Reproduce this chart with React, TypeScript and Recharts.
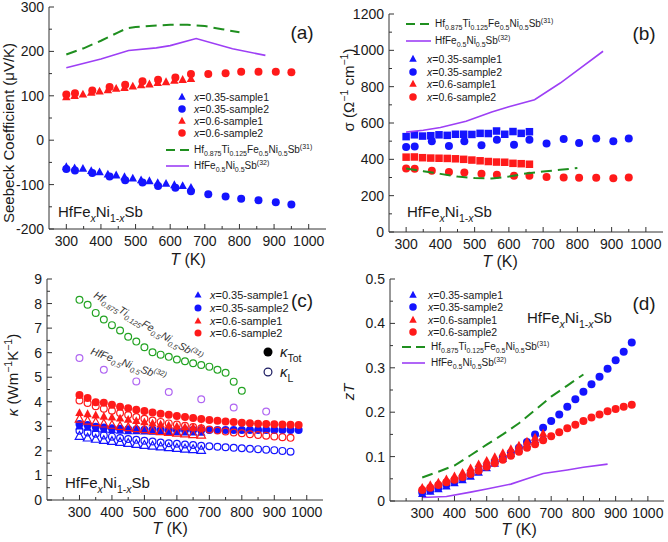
import React from 'react';
import { ScatterChart, Scatter, XAxis, YAxis, Legend } from 'recharts';

const FONT = '"Liberation Sans", Arial, Helvetica, sans-serif';
const BLUE = '#1414ff';
const RED = '#ff1a1a';
const GREEN = '#1f8f1f';
const GREEN_O = '#22a322';
const PURPLE = '#9d3ff5';
const PURPLE_O = '#b066f2';
const AXIS = '#333333';
const TXT = '#1a1a1a';

// ---------- tick labels ----------
const xTicksAB = [300, 350, 400, 450, 500, 550, 600, 650, 700, 750, 800, 850, 900, 950, 1000];
const xTicksCD = [250, 300, 350, 400, 450, 500, 550, 600, 650, 700, 750, 800, 850, 900, 950, 1000];
const xMajors = [300, 400, 500, 600, 700, 800, 900, 1000];
const yTicksA = [-200, -150, -100, -50, 0, 50, 100, 150, 200, 250, 300];
const yMajorsA = [-200, -100, 0, 100, 200, 300];
const yTicksB = [0, 100, 200, 300, 400, 500, 600, 700, 800, 900, 1000, 1100, 1200];
const yMajorsB = [0, 200, 400, 600, 800, 1000, 1200];
const yTicksC = [0, 0.5, 1, 1.5, 2, 2.5, 3, 3.5, 4, 4.5, 5, 5.5, 6, 6.5, 7, 7.5, 8, 8.5, 9];
const yMajorsC = [0, 1, 2, 3, 4, 5, 6, 7, 8, 9];
const yTicksD = [0, 0.05, 0.1, 0.15, 0.2, 0.25, 0.3, 0.35, 0.4, 0.45, 0.5];
const yMajorsD = [0, 0.1, 0.2, 0.3, 0.4, 0.5];

// ---------- panel (a): Seebeck ----------
const tAB1 = [300, 324, 348, 372, 396, 420, 444, 468, 492, 516, 540, 564, 588, 612, 636, 660];
const tAB2 = [300, 325, 375, 425, 470, 520, 565, 615, 660, 710, 760, 805, 855, 905, 950];
const seebeck035s1 = [-60, -63, -64, -69, -72, -77, -79, -83, -86, -90, -92, -96, -98, -101, -103, -107];
const seebeck035s2 = [-65, -68, -74, -82, -90, -95, -103, -107, -115, -122, -127, -132, -135, -140, -145];
const seebeck06s1 = [97, 100, 103, 107, 110, 113, 116, 118, 121, 124, 126, 129, 131, 134, 136, 138];
const seebeck06s2 = [103, 106, 112, 120, 125, 133, 136, 141, 149, 149, 151, 154, 154, 154, 153];
const tSeebeckTi = [300, 350, 400, 450, 475, 500, 550, 600, 650, 700, 750, 800];
const seebeckTi = [193, 207, 224, 243, 252, 255, 258, 260, 260, 257, 250, 243];
const tSeebeckRef = [300, 400, 480, 560, 600, 675, 780, 875];
const seebeckRef = [163, 183, 202, 208, 213, 229, 206, 191];

// ---------- panel (b): conductivity ----------
const sigma035s1 = [525, 535, 528, 530, 535, 532, 538, 538, 537, 543, 542, 556, 538, 553, 543, 552];
const sigma035s2 = [468, 470, 500, 473, 500, 478, 508, 480, 508, 487, 512, 490, 515, 500, 515];
const sigma06s1 = [412, 413, 409, 407, 406, 405, 403, 400, 396, 392, 388, 385, 384, 378, 376, 373];
const sigma06s2 = [350, 348, 337, 330, 327, 320, 315, 310, 310, 303, 300, 298, 298, 296, 300];
const tSigmaTi = [300, 350, 400, 450, 500, 550, 600, 650, 700, 750, 800];
const sigmaTi = [350, 335, 320, 305, 297, 295, 305, 322, 333, 342, 352];
const tSigmaRef = [300, 350, 400, 475, 550, 600, 675, 750, 800, 875];
const sigmaRef = [550, 560, 575, 610, 660, 690, 728, 820, 890, 995];

// ---------- panel (c): thermal conductivity ----------
const tCD1 = [300, 325, 350, 375, 400, 425, 450, 475, 500, 525, 550, 575, 600, 625, 650, 675];
const tC2tot = [300, 325, 350, 375, 400, 425, 450, 475, 500, 525, 550, 575, 600, 625, 650, 675, 700, 725, 750, 775, 800, 825, 850, 875, 900, 925, 950, 975];
const tCD2 = [300, 325, 350, 375, 400, 425, 450, 475, 500, 525, 550, 575, 600, 625, 650, 675, 700, 725, 750, 775, 800, 825, 850, 875, 900, 925, 950];
const kTot035s1 = [3.0, 2.95, 2.9, 2.87, 2.85, 2.83, 2.81, 2.8, 2.79, 2.78, 2.77, 2.76, 2.76, 2.75, 2.75, 2.74];
const kL035s1 = [2.6, 2.53, 2.48, 2.43, 2.39, 2.35, 2.31, 2.27, 2.23, 2.2, 2.17, 2.14, 2.11, 2.08, 2.06, 2.03];
const kTot035s2 = [3.1, 3.05, 2.98, 2.95, 2.92, 2.9, 2.88, 2.87, 2.86, 2.86, 2.85, 2.85, 2.85, 2.85, 2.85, 2.85, 2.85, 2.85, 2.85, 2.85, 2.85, 2.85, 2.85, 2.85, 2.85, 2.85, 2.85, 2.85];
const kL035s2 = [2.82, 2.75, 2.7, 2.63, 2.58, 2.52, 2.48, 2.45, 2.41, 2.38, 2.34, 2.31, 2.29, 2.26, 2.24, 2.21, 2.19, 2.17, 2.15, 2.13, 2.11, 2.09, 2.07, 2.05, 2.03, 2.0, 1.97];
const kTot06s1 = [3.55, 3.5, 3.45, 3.4, 3.36, 3.32, 3.27, 3.22, 3.17, 3.12, 3.08, 3.04, 3.0, 2.97, 2.95, 2.93];
const kL06s1 = [3.3, 3.22, 3.16, 3.1, 3.05, 3.0, 2.95, 2.91, 2.87, 2.83, 2.79, 2.76, 2.73, 2.7, 2.67, 2.65];
const kTot06s2 = [4.28, 4.15, 3.98, 3.96, 3.88, 3.8, 3.74, 3.68, 3.62, 3.56, 3.51, 3.47, 3.42, 3.38, 3.34, 3.3, 3.26, 3.23, 3.2, 3.18, 3.15, 3.13, 3.11, 3.1, 3.08, 3.07, 3.06, 3.05];
const kL06s2 = [4.05, 3.95, 3.82, 3.72, 3.63, 3.54, 3.46, 3.38, 3.31, 3.24, 3.18, 3.12, 3.07, 3.02, 2.97, 2.92, 2.87, 2.83, 2.79, 2.75, 2.72, 2.68, 2.65, 2.62, 2.59, 2.56, 2.53];
const tKappaTi = [300, 325, 350, 375, 400, 425, 450, 475, 500, 525, 550, 575, 600, 625, 650, 675, 700, 725, 750, 775, 800];
const kappaTi = [8.15, 7.95, 7.62, 7.35, 7.12, 6.9, 6.65, 6.45, 6.22, 6.02, 5.92, 5.83, 5.72, 5.65, 5.57, 5.5, 5.43, 5.3, 5.18, 4.82, 4.45];
const tKappaRef = [300, 375, 475, 575, 675, 775, 875];
const kappaRef = [5.78, 5.3, 4.83, 4.4, 4.1, 3.77, 3.6];

// ---------- panel (d): zT ----------
const zT035s1 = [0.016, 0.021, 0.027, 0.033, 0.04, 0.047, 0.055, 0.064, 0.074, 0.084, 0.095, 0.106, 0.117, 0.128, 0.137, 0.145];
const zT035s2 = [0.019, 0.024, 0.03, 0.037, 0.044, 0.052, 0.06, 0.069, 0.078, 0.088, 0.098, 0.109, 0.12, 0.133, 0.15, 0.165, 0.18, 0.195, 0.212, 0.229, 0.246, 0.263, 0.28, 0.298, 0.317, 0.336, 0.357];
const zT06s1 = [0.03, 0.036, 0.042, 0.049, 0.056, 0.064, 0.074, 0.083, 0.091, 0.099, 0.108, 0.117, 0.125, 0.134, 0.143, 0.152];
const zT06s2 = [0.025, 0.03, 0.036, 0.042, 0.048, 0.054, 0.061, 0.068, 0.077, 0.085, 0.093, 0.102, 0.111, 0.12, 0.128, 0.137, 0.146, 0.155, 0.164, 0.172, 0.18, 0.188, 0.195, 0.202, 0.207, 0.212, 0.217];
const tZTTi = [300, 350, 400, 450, 500, 550, 600, 650, 700, 750, 800];
const zTTi = [0.053, 0.066, 0.08, 0.103, 0.127, 0.15, 0.175, 0.205, 0.235, 0.26, 0.285];
const tZTRef = [300, 375, 450, 500, 575, 625, 675, 750, 800, 875];
const zTRef = [0.008, 0.01, 0.02, 0.027, 0.038, 0.05, 0.062, 0.07, 0.076, 0.083];

const pts = (xs: number[], ys: number[]) => xs.map((x, i) => ({ x, y: ys[i] }));

// ---------- rich text ----------
type Part = { t: string; s?: 'sub' | 'sup'; i?: boolean };
function Rich(props: { x: number; y: number; parts: Part[]; size: number; anchor?: string; rotate?: number; fill?: string; italic?: boolean }) {
  const { x, y, parts, size, anchor = 'start', rotate = 0, fill = TXT, italic = false } = props;
  let shift = 0;
  const spans = parts.map((p, k) => {
    const target = p.s === 'sub' ? size * 0.3 : p.s === 'sup' ? -size * 0.4 : 0;
    const dy = target - shift;
    shift = target;
    return (
      <tspan key={k} dy={dy} fontSize={p.s ? size * 0.7 : size} fontStyle={p.i || italic ? 'italic' : 'normal'}>
        {p.t}
      </tspan>
    );
  });
  return (
    <text x={x} y={y} textAnchor={anchor as any} fontSize={size} fill={fill} fontFamily={FONT}
      transform={rotate ? `rotate(${rotate} ${x} ${y})` : undefined}>
      {spans}
    </text>
  );
}

const compound: Part[] = [{ t: 'HfFe' }, { t: 'x', s: 'sub', i: true }, { t: 'Ni' }, { t: '1-', s: 'sub' }, { t: 'x', s: 'sub', i: true }, { t: 'Sb' }];
const tiRef: Part[] = [{ t: 'Hf' }, { t: '0.875', s: 'sub' }, { t: 'Ti' }, { t: '0.125', s: 'sub' }, { t: 'Fe' }, { t: '0.5', s: 'sub' }, { t: 'Ni' }, { t: '0.5', s: 'sub' }, { t: 'Sb' }, { t: '(31)', s: 'sup' }];
const plainRef: Part[] = [{ t: 'HfFe' }, { t: '0.5', s: 'sub' }, { t: 'Ni' }, { t: '0.5', s: 'sub' }, { t: 'Sb' }, { t: '(32)', s: 'sup' }];
const sampleNames: Part[][] = [
  [{ t: 'x', i: true }, { t: '=0.35-sample1' }],
  [{ t: 'x', i: true }, { t: '=0.35-sample2' }],
  [{ t: 'x', i: true }, { t: '=0.6-sample1' }],
  [{ t: 'x', i: true }, { t: '=0.6-sample2' }],
];
const tTitle: Part[] = [{ t: 'T', i: true }, { t: ' (K)' }];

// ---------- markers ----------
type Kind = 'c' | 't' | 's';
function Mark({ x, y, kind, color, open, size }: { x: number; y: number; kind: Kind; color: string; open?: boolean; size: number }) {
  if (x == null || y == null || isNaN(x) || isNaN(y)) return <g />;
  const sw = open ? 1.2 : 0;
  const fill = open ? 'none' : color;
  if (kind === 'c') return <circle cx={x} cy={y} r={open ? size / 2 - 0.6 : size / 2} fill={fill} stroke={color} strokeWidth={sw} />;
  if (kind === 's') return <rect x={x - size / 2} y={y - size / 2} width={size} height={size} fill={fill} stroke={color} strokeWidth={sw} />;
  const h = size * 0.92;
  return <polygon points={`${x},${y - h * 0.6} ${x - size / 2},${y + h * 0.4} ${x + size / 2},${y + h * 0.4}`} fill={fill} stroke={color} strokeWidth={sw} strokeLinejoin="miter" />;
}

const near = (a: number, b: number) => Math.abs(a - b) < 1e-6;
function makeTick(orient: 'bottom' | 'left' | 'top' | 'right', majors: number[], labels: boolean) {
  return (props: any) => {
    const { x, y, payload } = props;
    const v = payload.value;
    const major = majors.some((m) => near(m, v));
    const L = major ? 5 : 3;
    let x2 = x;
    let y2 = y;
    if (orient === 'bottom') y2 = y - L;
    if (orient === 'top') y2 = y + L;
    if (orient === 'left') x2 = x + L;
    if (orient === 'right') x2 = x - L;
    return (
      <g>
        <line x1={x} y1={y} x2={x2} y2={y2} stroke={AXIS} strokeWidth={1} />
        {labels && major && orient === 'bottom' && (
          <text x={x} y={y + 17} textAnchor="middle" fontSize={14} fill={TXT} fontFamily={FONT}>{String(v)}</text>
        )}
        {labels && major && orient === 'left' && (
          <text x={x - 5} y={y + 5} textAnchor="end" fontSize={14} fill={TXT} fontFamily={FONT}>{String(v)}</text>
        )}
      </g>
    );
  };
}

function axes(xDomain: number[], xTicks: number[], yDomain: number[], yTicks: number[], yMajors: number[], xH: number, yW: number) {
  return [
    <XAxis key="xb" xAxisId={0} type="number" dataKey="x" domain={xDomain} ticks={xTicks} interval={0} allowDataOverflow
      tickSize={0} tickMargin={0} tickLine={false} axisLine={{ stroke: AXIS }} height={xH} tick={makeTick('bottom', xMajors, true)} />,
    <XAxis key="xt" xAxisId="top" orientation="top" type="number" domain={xDomain} ticks={xTicks} interval={0} allowDataOverflow
      tickSize={0} tickMargin={0} tickLine={false} axisLine={{ stroke: AXIS }} height={0} tick={makeTick('top', xMajors, false)} />,
    <YAxis key="yl" yAxisId={0} type="number" dataKey="y" domain={yDomain} ticks={yTicks} interval={0} allowDataOverflow
      tickSize={0} tickMargin={0} tickLine={false} axisLine={{ stroke: AXIS }} width={yW} tick={makeTick('left', yMajors, true)} />,
    <YAxis key="yr" yAxisId="right" orientation="right" type="number" domain={yDomain} ticks={yTicks} interval={0} allowDataOverflow
      tickSize={0} tickMargin={0} tickLine={false} axisLine={{ stroke: AXIS }} width={0} tick={makeTick('right', yMajors, false)} />,
  ];
}

function marks(key: string, data: { x: number; y: number }[], kind: Kind, color: string, size: number, open = false) {
  return (
    <Scatter key={key} name={key} data={data} fill={color} isAnimationActive={false}
      shape={(p: any) => <Mark x={p.cx} y={p.cy} kind={kind} color={color} open={open} size={size} />} />
  );
}

function curve(key: string, data: { x: number; y: number }[], color: string, width: number, dash?: string) {
  return (
    <Scatter key={key} name={key} data={data} fill={color} isAnimationActive={false}
      line={{ stroke: color, strokeWidth: width, strokeDasharray: dash }} shape={() => <g />} />
  );
}

function overlay(children: React.ReactNode) {
  return (
    <Legend layout="vertical" align="center" verticalAlign="middle"
      wrapperStyle={{ left: 0, top: 0, width: 334, height: 271, pointerEvents: 'none' }}
      content={() => (
        <svg width={334} height={271} style={{ position: 'absolute', left: 0, top: 0, overflow: 'visible' }}>{children}</svg>
      )} />
  );
}

function LegendMarks({ mx, tx, rows, size, font }: { mx: number; tx: number; rows: number[]; size: number; font: number }) {
  const kinds: Kind[] = ['t', 'c', 't', 'c'];
  const colors = [BLUE, BLUE, RED, RED];
  return (
    <g>
      {rows.map((ry, i) => (
        <g key={i}>
          <Mark x={mx} y={ry} kind={kinds[i]} color={colors[i]} size={size} />
          <Rich x={tx} y={ry + font * 0.36} parts={sampleNames[i]} size={font} />
        </g>
      ))}
    </g>
  );
}

function LegendLines({ x1, x2, tx, yDash, yLine }: { x1: number; x2: number; tx: number; yDash: number; yLine: number }) {
  return (
    <g>
      <line x1={x1} x2={x2} y1={yDash} y2={yDash} stroke={GREEN} strokeWidth={2} strokeDasharray="9 5" />
      <Rich x={tx} y={yDash + 3} parts={tiRef} size={10} />
      <line x1={x1} x2={x2} y1={yLine} y2={yLine} stroke={PURPLE} strokeWidth={1.6} />
      <Rich x={tx} y={yLine + 3} parts={plainRef} size={10} />
    </g>
  );
}

const W = 334;
const H = 271;

export default function App() {
  return (
    <div style={{ position: 'absolute', left: 0, top: 0, width: 668, height: 542, background: '#ffffff', overflow: 'hidden' }}>
      {/* (a) */}
      <div style={{ position: 'absolute', left: 0, top: 0 }}>
        <ScatterChart width={W} height={H} margin={{ top: 7, right: 8, bottom: 0, left: 0 }}>
          {axes([250, 1050], xTicksAB, [-200, 300], yTicksA, yMajorsA, 42, 49)}
          {curve('ti', pts(tSeebeckTi, seebeckTi), GREEN, 2, '11 6')}
          {curve('ref', pts(tSeebeckRef, seebeckRef), PURPLE, 1.6)}
          {marks('b1', pts(tAB1, seebeck035s1), 't', BLUE, 8.5)}
          {marks('b2', pts(tAB2, seebeck035s2), 'c', BLUE, 8)}
          {marks('r1', pts(tAB1, seebeck06s1), 't', RED, 8.5)}
          {marks('r2', pts(tAB2, seebeck06s2), 'c', RED, 8)}
          {overlay(
            <g>
              <text x={302} y={39} textAnchor="middle" fontSize={19} fill={TXT} fontFamily={FONT}>(a)</text>
              <Rich x={58} y={217} parts={compound} size={15} />
              <LegendMarks mx={182} tx={194} rows={[97, 109, 121, 133]} size={7.5} font={10.5} />
              <LegendLines x1={166} x2={189} tx={194} yDash={150} yLine={166} />
              <Rich x={14} y={133} parts={[{ t: 'Seebeck Coefficient (μV/K)' }]} size={15} anchor="middle" rotate={-90} />
              <Rich x={188} y={265} parts={tTitle} size={16} anchor="middle" />
            </g>
          )}
        </ScatterChart>
      </div>
      {/* (b) */}
      <div style={{ position: 'absolute', left: 334, top: 0 }}>
        <ScatterChart width={W} height={H} margin={{ top: 14, right: 5, bottom: 0, left: 0 }}>
          {axes([250, 1050], xTicksAB, [0, 1200], yTicksB, yMajorsB, 39, 55)}
          {marks('b1', pts(tAB1, sigma035s1), 's', BLUE, 7.5)}
          {marks('b2', pts(tAB2, sigma035s2), 'c', BLUE, 8)}
          {marks('r1', pts(tAB1, sigma06s1), 's', RED, 7.5)}
          {marks('r2', pts(tAB2, sigma06s2), 'c', RED, 8)}
          {curve('ti', pts(tSigmaTi, sigmaTi), GREEN, 2, '11 6')}
          {curve('ref', pts(tSigmaRef, sigmaRef), PURPLE, 1.6)}
          {overlay(
            <g>
              <text x={310} y={40} textAnchor="middle" fontSize={19} fill={TXT} fontFamily={FONT}>(b)</text>
              <Rich x={73} y={217} parts={compound} size={15} />
              <LegendLines x1={72} x2={97} tx={101} yDash={24} yLine={41} />
              <LegendMarks mx={79} tx={93} rows={[59, 72, 84, 97]} size={7.5} font={10.5} />
              <Rich x={20} y={90}
                parts={[{ t: 'σ (Ω' }, { t: '−1', s: 'sup' }, { t: ' cm' }, { t: '−1', s: 'sup' }, { t: ')' }]}
                size={15} anchor="middle" rotate={-90} />
              <Rich x={166} y={267} parts={tTitle} size={16} anchor="middle" />
            </g>
          )}
        </ScatterChart>
      </div>
      {/* (c) */}
      <div style={{ position: 'absolute', left: 0, top: 271 }}>
        <ScatterChart width={W} height={H} margin={{ top: 8, right: 11, bottom: 0, left: 0 }}>
          {axes([200, 1050], xTicksCD, [0, 9], yTicksC, yMajorsC, 42, 47)}
          {marks('ti', pts(tKappaTi, kappaTi), 'c', GREEN_O, 8, true)}
          {marks('ref', pts(tKappaRef, kappaRef), 'c', PURPLE_O, 8, true)}
          {marks('b2L', pts(tCD2, kL035s2), 'c', BLUE, 8, true)}
          {marks('b1L', pts(tCD1, kL035s1), 't', BLUE, 8.5, true)}
          {marks('b2T', pts(tC2tot, kTot035s2), 'c', BLUE, 8)}
          {marks('b1T', pts(tCD1, kTot035s1), 't', BLUE, 8.5)}
          {marks('r2L', pts(tCD2, kL06s2), 'c', RED, 8, true)}
          {marks('r2T', pts(tC2tot, kTot06s2), 'c', RED, 8)}
          {marks('r1T', pts(tCD1, kTot06s1), 't', RED, 8.5)}
          {marks('r1L', pts(tCD1, kL06s1), 't', RED, 8.5, true)}
          {overlay(
            <g>
              <text x={302} y={36} textAnchor="middle" fontSize={19} fill={TXT} fontFamily={FONT}>(c)</text>
              <Rich x={65} y={217} parts={compound} size={15} />
              <LegendMarks mx={198} tx={210} rows={[24, 37, 50, 62]} size={7} font={11} />
              <Mark x={268} y={81} kind="c" color="#000000" size={9} />
              <Rich x={280} y={86} parts={[{ t: 'κ', i: true }, { t: 'Tot', s: 'sub' }]} size={15} />
              <Mark x={268} y={101} kind="c" color="#1a1a60" size={9} open />
              <Rich x={280} y={106} parts={[{ t: 'κ', i: true }, { t: 'L', s: 'sub' }]} size={15} />
              <Rich x={93} y={26} parts={tiRef} size={10.5} rotate={31} italic fill="#333333" />
              <Rich x={90} y={83} parts={plainRef} size={10.5} rotate={20} italic fill="#333333" />
              <Rich x={18} y={104}
                parts={[{ t: 'κ', i: true }, { t: ' (Wm' }, { t: '−1', s: 'sup' }, { t: 'K' }, { t: '−1', s: 'sup' }, { t: ')' }]}
                size={15} anchor="middle" rotate={-90} />
              <Rich x={170} y={263} parts={tTitle} size={16} anchor="middle" />
            </g>
          )}
        </ScatterChart>
      </div>
      {/* (d) */}
      <div style={{ position: 'absolute', left: 334, top: 271 }}>
        <ScatterChart width={W} height={H} margin={{ top: 8, right: 4, bottom: 0, left: 0 }}>
          {axes([200, 1050], xTicksCD, [0, 0.5], yTicksD, yMajorsD, 41, 56)}
          {curve('ti', pts(tZTTi, zTTi), GREEN, 2, '11 6')}
          {curve('ref', pts(tZTRef, zTRef), PURPLE, 1.6)}
          {marks('b1', pts(tCD1, zT035s1), 't', BLUE, 8.5)}
          {marks('b2', pts(tCD2, zT035s2), 'c', BLUE, 8)}
          {marks('r1', pts(tCD1, zT06s1), 't', RED, 8.5)}
          {marks('r2', pts(tCD2, zT06s2), 'c', RED, 8)}
          {overlay(
            <g>
              <text x={310} y={39} textAnchor="middle" fontSize={19} fill={TXT} fontFamily={FONT}>(d)</text>
              <Rich x={193} y={52} parts={compound} size={15} />
              <LegendMarks mx={79} tx={94} rows={[24, 36, 49, 61]} size={7.5} font={10.5} />
              <LegendLines x1={68} x2={91} tx={97} yDash={76} yLine={92} />
              <Rich x={20} y={121} parts={[{ t: 'zT', i: true }]} size={15} anchor="middle" rotate={-90} />
              <Rich x={185} y={264} parts={tTitle} size={16} anchor="middle" />
            </g>
          )}
        </ScatterChart>
      </div>
    </div>
  );
}
